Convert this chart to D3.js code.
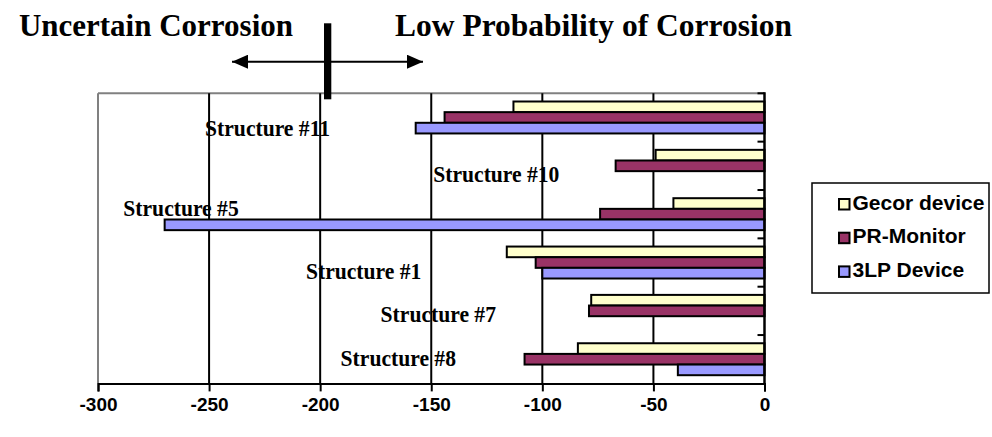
<!DOCTYPE html>
<html>
<head>
<meta charset="utf-8">
<script src="https://cdn.jsdelivr.net/npm/d3@7/dist/d3.min.js"></script>
<style>
  html, body { margin: 0; padding: 0; background: #fff; }
  svg { display: block; }
</style>
</head>
<body>
<svg id="chart" width="992" height="437"></svg>
<script>
// Structures, listed top to bottom
const categories = ["Structure #11", "Structure #10", "Structure #5", "Structure #1", "Structure #7", "Structure #8"];
// Potential readings per measuring device (null = no reading)
const gecorDevice = [-113, -49, -41, -116, -78, -84];
const prMonitor   = [-144, -67, -74, -103, -79, -108];
const lp3Device   = [-157, null, -270, -100, null, -39];
const seriesNames = ["Gecor device", "PR-Monitor", "3LP Device"];
const xTicks = [-300, -250, -200, -150, -100, -50, 0];
const titleLeft = "Uncertain Corrosion";
const titleRight = "Low Probability of Corrosion";

// Category label anchors: start position on the value axis, baseline as fraction of the band
const labelStartX = [-251.8, -149.1, -288.6, -206.4, -172.8, -190.8];
const labelBaseline = [0.88, 0.84, 0.54, 0.84, 0.74, 0.64];

const colors = ["#FFFFCC", "#993366", "#9999FF"];
const seriesValues = [gecorDevice, prMonitor, lp3Device];

const svg = d3.select("#chart");
const plot = { left: 98, right: 764.5, top: 93.3, bottom: 383.4 };

const x = d3.scaleLinear().domain([-300, 0]).range([plot.left, plot.right]);
const y0 = d3.scaleBand().domain(categories).range([plot.top, plot.bottom]).padding(0);
const y1 = d3.scaleBand().domain(seriesNames).range([0, y0.bandwidth()])
  .paddingInner(0).paddingOuter(0.77);

// Plot frame (grey top and left)
svg.append("line").attr("x1", plot.left).attr("x2", plot.right)
  .attr("y1", plot.top).attr("y2", plot.top)
  .attr("stroke", "#808080").attr("stroke-width", 2);
svg.append("line").attr("x1", plot.left).attr("x2", plot.left)
  .attr("y1", plot.top).attr("y2", plot.bottom)
  .attr("stroke", "#808080").attr("stroke-width", 2);

// Vertical gridlines
svg.append("g").selectAll("line")
  .data(xTicks.filter(t => t > -300 && t < 0))
  .join("line")
  .attr("x1", d => x(d)).attr("x2", d => x(d))
  .attr("y1", plot.top).attr("y2", plot.bottom)
  .attr("stroke", "#000").attr("stroke-width", 2);

// Bars
const rows = [];
categories.forEach((c, i) => {
  seriesNames.forEach((s, j) => {
    const v = seriesValues[j][i];
    if (v !== null) rows.push({ cat: c, series: s, value: v, color: colors[j] });
  });
});
svg.append("g").selectAll("rect")
  .data(rows)
  .join("rect")
  .attr("x", d => x(d.value))
  .attr("width", d => x(0) - x(d.value))
  .attr("y", d => y0(d.cat) + y1(d.series))
  .attr("height", y1.bandwidth())
  .attr("fill", d => d.color)
  .attr("stroke", "#000")
  .attr("stroke-width", 2);

// Value axis (bottom)
const xAxis = d3.axisBottom(x).tickValues(xTicks).tickSize(8).tickPadding(6)
  .tickFormat(d3.format("d"));
const gx = svg.append("g").attr("transform", `translate(0,${plot.bottom})`).call(xAxis);
gx.select(".domain").attr("stroke", "#000").attr("stroke-width", 2);
gx.selectAll(".tick line").attr("stroke", "#000").attr("stroke-width", 2);
gx.selectAll(".tick text")
  .attr("font-family", "'Liberation Sans', Arial, sans-serif")
  .attr("font-weight", "bold").attr("font-size", "19px").attr("fill", "#000")
  .text(d => d < 0 ? "-" + Math.abs(d) : d);

// Category axis at zero, inward ticks on band boundaries
const boundaries = categories.map(c => y0(c));
svg.append("line").attr("x1", x(0)).attr("x2", x(0))
  .attr("y1", plot.top - 1).attr("y2", plot.bottom)
  .attr("stroke", "#000").attr("stroke-width", 2.5);
svg.append("g").selectAll("line")
  .data(boundaries)
  .join("line")
  .attr("x1", x(0) - 7).attr("x2", x(0))
  .attr("y1", d => d).attr("y2", d => d)
  .attr("stroke", "#000").attr("stroke-width", 2);

// Category labels
svg.append("g").selectAll("text")
  .data(categories)
  .join("text")
  .attr("transform", (d, i) =>
    `translate(${x(labelStartX[i])},${y0(d) + labelBaseline[i] * y0.bandwidth()}) scale(0.9,1)`)
  .attr("font-family", "'Liberation Serif', 'Times New Roman', serif")
  .attr("font-weight", "bold").attr("font-size", "24px").attr("fill", "#000")
  .text(d => d);

// Titles and threshold marker
svg.append("text").attr("x", 293).attr("y", 35.7).attr("text-anchor", "end")
  .attr("font-family", "'Liberation Serif', 'Times New Roman', serif")
  .attr("font-weight", "bold").attr("font-size", "31px").text(titleLeft);
svg.append("text").attr("x", 395).attr("y", 35.7).attr("text-anchor", "start")
  .attr("font-family", "'Liberation Serif', 'Times New Roman', serif")
  .attr("font-weight", "bold").attr("font-size", "31.5px").text(titleRight);

const defs = svg.append("defs");
["start", "end"].forEach(k => {
  defs.append("marker").attr("id", "arrow-" + k)
    .attr("viewBox", "0 0 16 14").attr("refX", k === "end" ? 16 : 0).attr("refY", 7)
    .attr("markerWidth", 16).attr("markerHeight", 14).attr("markerUnits", "userSpaceOnUse")
    .attr("orient", "auto")
    .append("path")
    .attr("d", k === "end" ? "M0,0 L16,7 L0,14 Z" : "M16,0 L0,7 L16,14 Z")
    .attr("fill", "#000");
});
svg.append("line").attr("x1", 232).attr("x2", 423).attr("y1", 61.7).attr("y2", 61.7)
  .attr("stroke", "#000").attr("stroke-width", 2)
  .attr("marker-start", "url(#arrow-start)").attr("marker-end", "url(#arrow-end)");
svg.append("rect").attr("x", 324).attr("y", 23.3).attr("width", 7.3).attr("height", 76)
  .attr("fill", "#000");

// Legend
const legend = svg.append("g");
legend.append("rect").attr("x", 812).attr("y", 183).attr("width", 177).attr("height", 110)
  .attr("fill", "#fff").attr("stroke", "#000").attr("stroke-width", 1.5);
const legendBaselines = [209.5, 243.2, 276.9];
seriesNames.forEach((s, j) => {
  legend.append("rect").attr("x", 839).attr("y", legendBaselines[j] - 10.5)
    .attr("width", 10.5).attr("height", 10.5)
    .attr("fill", colors[j]).attr("stroke", "#000").attr("stroke-width", 2);
  legend.append("text").attr("x", 852.5).attr("y", legendBaselines[j])
    .attr("font-family", "'Liberation Sans', Arial, sans-serif")
    .attr("font-weight", "bold").attr("font-size", "21px").attr("fill", "#000")
    .text(s);
});
</script>
</body>
</html>
